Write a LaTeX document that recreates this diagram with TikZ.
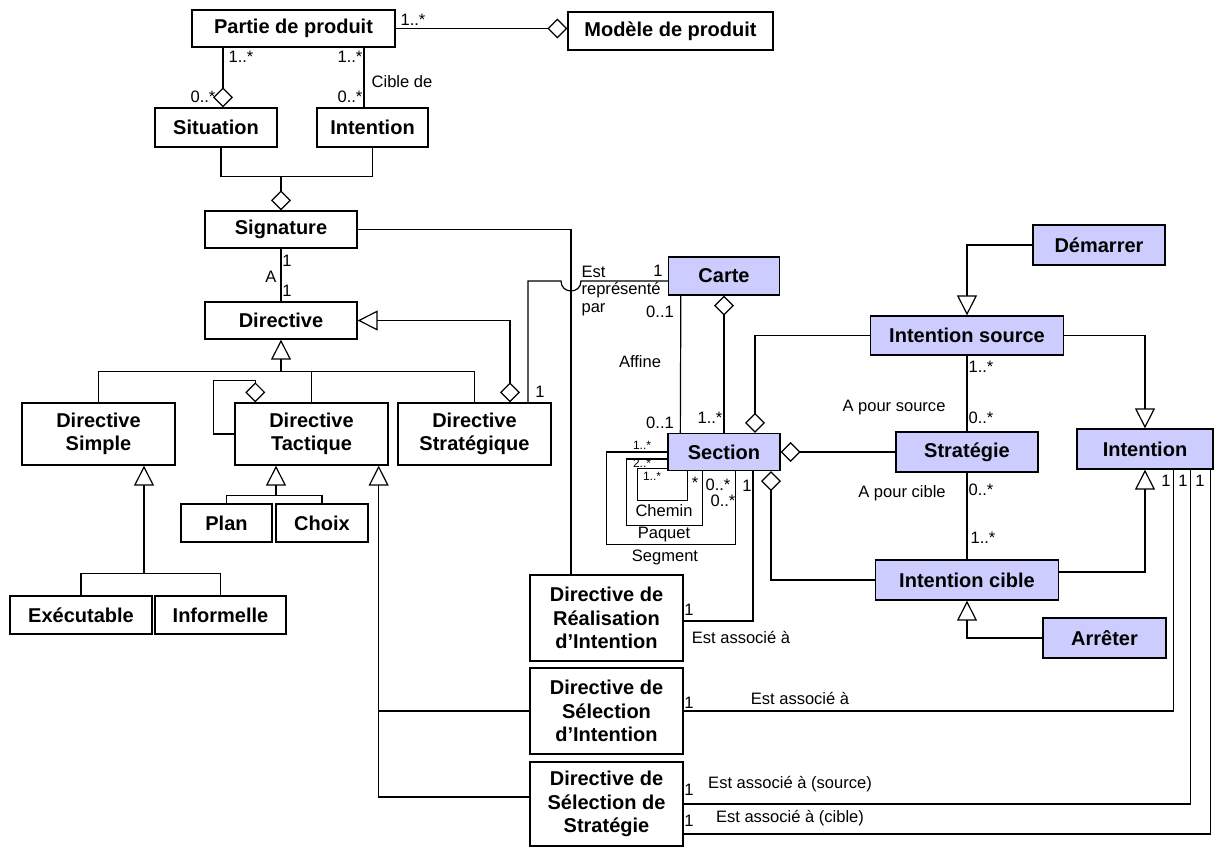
\documentclass[tikz,border=0pt]{standalone}
\usepackage{fontspec}
\setmainfont{Liberation Sans}
\usepackage{tikz}
\usetikzlibrary{arrows.meta,calc}
\definecolor{mapblue}{HTML}{CCCCFF}

\begin{document}
\begin{tikzpicture}[x=0.75pt,y=-0.75pt,line width=0.9pt,
  cls/.style={draw,line width=1pt,fill=white,align=center,inner sep=0pt,
    font=\fontsize{15}{17.5}\selectfont\bfseries},
  map/.style={cls,fill=mapblue},
  sz/.style 2 args={minimum width=#1*0.75pt,minimum height=#2*0.75pt},
  lbl/.style={inner sep=0pt,font=\fontsize{12.4}{14.5}\selectfont},
  tiny/.style={inner sep=0pt,font=\fontsize{9}{10}\selectfont},
  agg/.style={-{Diamond[open,length=15pt,width=15pt]}},
  gen/.style={-{Triangle[open,length=15pt,width=15pt]}}]
  \useasboundingbox (0,0) rectangle (1214,847);

  % classes du produit
  \node[cls,sz={203}{37}] (partie) at (293.5,28.5) {Partie de produit};
  \node[cls,sz={205}{38}] (modele) at (670.5,31) {Modèle de produit};
  \node[cls,sz={122}{39}] (situation) at (216,127.5) {Situation};
  \node[cls,sz={111}{39}] (intentA) at (372.5,127.5) {Intention};
  \node[cls,sz={152}{37}] (signature) at (281,229.5) {Signature};
  \node[cls,sz={152}{37}] (directive) at (281,320.5) {Directive};
  \node[cls,sz={153}{62}] (simple) at (98.5,434) {Directive\\Simple};
  \node[cls,sz={153}{62}] (tactique) at (311.5,434) {Directive\\Tactique};
  \node[cls,sz={153}{62}] (strat) at (474.5,434) {Directive\\Stratégique};
  \node[cls,sz={91}{38}] (plan) at (226.5,523) {Plan};
  \node[cls,sz={92}{38}] (choix) at (322,523) {Choix};
  \node[cls,sz={142}{38}] (exec) at (81,615) {Exécutable};
  \node[cls,sz={131}{38}] (informelle) at (220.5,615) {Informelle};
  \node[cls,sz={153}{86}] (dri) at (606.5,618) {Directive de\\Réalisation\\d’Intention};
  \node[cls,sz={153}{86}] (dsi) at (606.5,711) {Directive de\\Sélection\\d’Intention};
  \node[cls,sz={153}{84}] (dss) at (606.5,804) {Directive de\\Sélection de\\Stratégie};

  % classes de la carte
  \node[map,sz={111}{38}] (carte) at (724,276) {Carte};
  \node[map,sz={112}{37}] (section) at (724,452) {Section};
  \node[map,sz={132}{40}] (demarrer) at (1099,245) {Démarrer};
  \node[map,sz={193}{39}] (isource) at (967,335.5) {Intention source};
  \node[map,sz={142}{40}] (strategie) at (967,452) {Stratégie};
  \node[map,sz={136}{40}] (intentB) at (1145,449) {Intention};
  \node[map,sz={183}{40}] (icible) at (967,580) {Intention cible};
  \node[map,sz={123}{40}] (arreter) at (1104.5,638) {Arrêter};

  % liens du produit
  \draw[agg] (partie.east) -- (partie.east -| modele.west);
  \coordinate (sit) at ($(situation.north)+(7,0)$);
  \draw[agg] (sit |- partie.south) -- (sit);
  \coordinate (cib) at ($(intentA.north)+(-8.5,0)$);
  \draw (cib) -- (cib |- partie.south);
  \coordinate (sij) at ($(signature.north)+(0,-34)$);
  \draw ($(situation.south)+(5,0)$) |- (sij) -| (intentA.south);
  \draw[agg] (sij) -- (signature.north);
  \draw (signature) -- (directive);

  \coordinate (gbus) at ($(directive.south)+(0,32)$);
  \draw (simple.north) |- (gbus) -| (strat.north);
  \draw (tactique.north) -- (tactique.north |- gbus);
  \draw[gen] (gbus) -- (directive.south);
  \draw[agg] (tactique.west) -| ($(tactique.north west)+(-21,-22)$)
    -| ($(tactique.north west)+(21,0)$);
  \draw[{Diamond[open,length=15pt,width=15pt]}-{Triangle[open,length=15pt,width=15pt]}]
    ($(strat.north)+(35.5,0)$) |- (directive.east);

  \coordinate (tbus) at ($(tactique.south)+(-35.5,30)$);
  \draw (plan.north) |- (tbus) -| (choix.north);
  \draw[gen] (tbus) -- (tbus |- tactique.south);
  \coordinate (sbus) at ($(simple.south)+(45.5,108)$);
  \draw (exec.north) |- (sbus) -| (informelle.north);
  \draw[gen] (sbus) -- (sbus |- simple.south);

  \coordinate (trunk) at ($(tactique.south east)+(-10,0)$);
  \draw[gen] ($(dss.west)+(0,-7)$) -| (trunk);
  \draw (dsi.west) -- (dsi.west -| trunk);

  % signature et carte
  \coordinate (sigd) at ($(dri.north)+(-35.5,0)$);
  \draw (signature.east) -| (sigd);
  \coordinate (rep) at ($(strat.north)+(53.5,0)$);
  \coordinate (cw) at ($(carte.west)+(0,5)$);
  \coordinate (hopL) at ($(cw -| sigd)+(-10,0)$);
  \coordinate (hopR) at ($(cw -| sigd)+(10,0)$);
  \draw (rep) |- (hopL) .. controls ($(hopL)+(0,13.3)$) and ($(hopR)+(0,13.3)$) .. (hopR) -- (cw);

  \draw ($(carte.south west)+(13,0)$) -- ($(section.north west)+(13,0)$);
  \draw[agg] (section.north) -- (carte.south);
  \draw[agg] (isource.west) -| ($(section.north)+(31,0)$);
  \draw[gen] (demarrer.west) -| (isource.north);
  \draw[gen] (isource.east) -| (intentB.north);
  \draw (isource) -- (strategie);
  \draw[agg] (strategie.west) -- (section.east);
  \draw[agg] (icible.west) -| ($(section.south)+(47,0)$);
  \draw (strategie) -- (icible);
  \draw[gen] ($(icible.east)+(0,-8)$) -| (intentB.south);
  \draw[gen] (arreter.west) -| (icible.south);

  % boucles de Section
  \draw (section.west) -| ($(section.south west)+(-61,73)$) -| ($(section.south west)+(68,0)$);
  \draw ($(section.west)+(0,7)$) -| ($(section.south west)+(-41,54)$) -| ($(section.south west)+(35,0)$);
  \draw ($(section.south west)+(0,-3)$) -| ($(section.south west)+(-30,29)$) -| ($(section.south west)+(20,0)$);

  % directives associees
  \draw ($(dri.east)+(0,3)$) -| ($(section.south)+(29,0)$);
  \draw (dsi.east) -| ($(intentB.south west)+(97,0)$);
  \draw (dss.east) -| ($(intentB.south west)+(114,0)$);
  \draw ($(dss.east)+(0,30)$) -| ($(intentB.south west)+(134,0)$);

  % multiplicites et roles
  \node[lbl] (mPartie) at (413,20) {1..*};
  \node[lbl] (mSitA) at (241,57) {1..*};
  \node[lbl] (mSitB) at (203,97) {0..*};
  \node[lbl] (mIntA) at (350,57) {1..*};
  \node[lbl] (mIntB) at (350,97) {0..*};
  \node[lbl] (tCible) at (402,82) {Cible de};
  \node[lbl] (mSigA) at (287,261) {1};
  \node[lbl] (tA) at (271,277) {A};
  \node[lbl] (mSigB) at (287,291) {1};
  \node[lbl] (mStrat) at (540,392) {1};
  \node[lbl,anchor=west] (tEst) at (581,272) {Est};
  \node[lbl,anchor=west] (tRep) at (581,290) {représenté};
  \node[lbl,anchor=west] (tPar) at (581,310) {par};
  \node[lbl] (mCarA) at (658,271) {1};
  \node[lbl] (mCarB) at (660,312) {0..1};
  \node[lbl] (tAffine) at (640,362) {Affine};
  \node[lbl] (mSecA) at (660,423) {0..1};
  \node[lbl] (mSecB) at (710,418) {1..*};
  \node[lbl] (mSrcA) at (981,367) {1..*};
  \node[lbl] (tSource) at (894,408) {A pour source};
  \node[lbl] (mSrcB) at (981,418) {0..*};
  \node[lbl] (mCibA) at (981,490) {0..*};
  \node[lbl] (tCibleB) at (902,493) {A pour cible};
  \node[lbl] (mCibB) at (983,538) {1..*};
  \node[lbl] (mIntC) at (1166,481) {1};
  \node[lbl] (mIntD) at (1183,481) {1};
  \node[lbl] (mIntE) at (1200,481) {1};
  \node[tiny] (mSeg) at (642,445) {1..*};
  \node[tiny] (mPaq) at (642,463) {2..*};
  \node[tiny] (mChe) at (652,476) {1..*};
  \node[lbl] (mCheB) at (695,483) {*};
  \node[lbl] (mPaqB) at (718,485) {0..*};
  \node[lbl] (mSegB) at (723,501) {0..*};
  \node[lbl] (tChemin) at (664,511) {Chemin};
  \node[lbl] (tPaquet) at (664,535) {Paquet};
  \node[lbl] (tSegment) at (665,557) {Segment};
  \node[lbl] (mDriS) at (747,486) {1};
  \node[lbl] (mDri) at (689,610) {1};
  \node[lbl] (tDri) at (741,637) {Est associé à};
  \node[lbl] (mDsi) at (689,703) {1};
  \node[lbl] (tDsi) at (800,698) {Est associé à};
  \node[lbl] (mDssA) at (689,790) {1};
  \node[lbl] (tDssA) at (790,784) {Est associé à (source)};
  \node[lbl] (mDssB) at (689,821) {1};
  \node[lbl] (tDssB) at (790,818) {Est associé à (cible)};
\end{tikzpicture}
\end{document}
